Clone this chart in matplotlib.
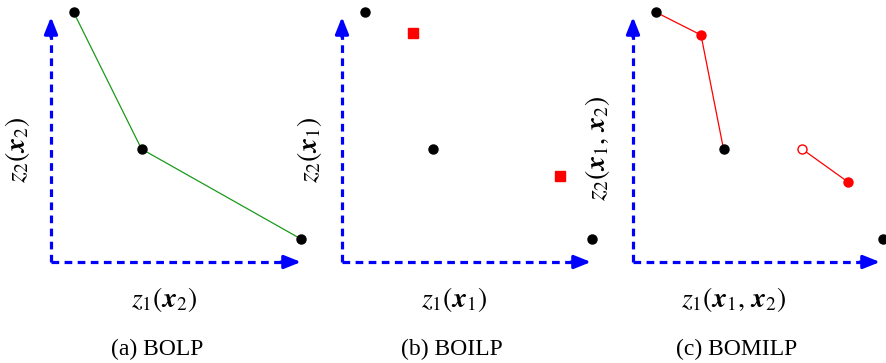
import matplotlib
matplotlib.use("Agg")
import matplotlib.pyplot as plt

plt.rcParams['font.family'] = ['Liberation Serif', 'DejaVu Serif']
plt.rcParams['mathtext.fontset'] = 'stix'

# Data (arbitrary units, origin at the axes corner)
black_x = [0.9, 3.62, 10.0]
black_y = [10.0, 4.52, 0.92]
boilp_sq_x = [2.84, 8.72]
boilp_sq_y = [9.16, 3.44]
bomilp_red_x = [2.72, 8.6]
bomilp_red_y = [9.08, 3.2]
bomilp_open_x = [6.76]
bomilp_open_y = [4.52]

xlabels = [r'$z_1(\mathbfit{x}_2)$', r'$z_1(\mathbfit{x}_1)$', r'$z_1(\mathbfit{x}_1,\,\mathbfit{x}_2)$']
ylabels = [r'$z_2(\mathbfit{x}_2)$', r'$z_2(\mathbfit{x}_1)$', r'$z_2(\mathbfit{x}_1,\,\mathbfit{x}_2)$']
captions = ['(a) BOLP', '(b) BOILP', '(c) BOMILP']

W, H = 886, 363
fig = plt.figure(figsize=(W / 100, H / 100), dpi=100)

origins = [(51, 262), (342, 262), (633, 262)]
arrow_x_end = [10.0, 9.96, 9.88]
xlabel_x = [4.52, 4.48, 4.04]
ylabel_x = [-1.32, -1.32, -1.4]
ylabel_y = [4.48, 4.48, 4.56]
caption_x = [4.24, 4.4, 4.16]
scale = 25.0
blue = '#0000ff'

axes = []
for i, (ox, oy) in enumerate(origins):
    x0, x1 = -1.8, 10.8
    y0, y1 = -4.0, 10.6
    left = ox + x0 * scale
    bottom = H - (oy - y0 * scale)
    ax = fig.add_axes([left / W, bottom / H, (x1 - x0) * scale / W, (y1 - y0) * scale / H])
    ax.set_xlim(x0, x1)
    ax.set_ylim(y0, y1)
    ax.axis('off')
    axes.append(ax)

    # dashed blue axes
    xe = arrow_x_end[i]
    ye = 9.8
    ax.plot([0, xe - 0.5], [0, 0], color=blue, lw=2.3, ls=(0, (2.4, 1.7)), dash_capstyle='butt')
    ax.plot([0, 0], [0, ye - 0.5], color=blue, lw=2.3, ls=(0, (2.4, 1.7)), dash_capstyle='butt')
    ax.annotate('', xy=(xe, 0), xytext=(xe - 0.8, 0),
                arrowprops=dict(arrowstyle='-|>,head_length=1.0,head_width=0.4', color=blue, lw=2.3,
                                shrinkA=0, shrinkB=0))
    ax.annotate('', xy=(0, ye), xytext=(0, ye - 0.8),
                arrowprops=dict(arrowstyle='-|>,head_length=1.0,head_width=0.4', color=blue, lw=2.3,
                                shrinkA=0, shrinkB=0))

    ax.text(xlabel_x[i], -1.48, xlabels[i], ha='center', va='center', fontsize=20)
    ax.text(ylabel_x[i], ylabel_y[i], ylabels[i], ha='center', va='center', fontsize=20, rotation=90)
    ax.text(caption_x[i], -3.48, captions[i], ha='center', va='center', fontsize=17)

# (a) BOLP
ax = axes[0]
ax.plot(black_x, black_y, color='#1a9a1a', lw=0.9, zorder=2)
ax.plot(black_x, black_y, 'o', color='black', ms=6.5, zorder=3)

# (b) BOILP
ax = axes[1]
ax.plot(black_x, black_y, 'o', color='black', ms=6.5, zorder=3)
ax.plot(boilp_sq_x, boilp_sq_y, 's', color='#ff0000', ms=7, zorder=3)

# (c) BOMILP
ax = axes[2]
ax.plot([black_x[0], bomilp_red_x[0], black_x[1]], [black_y[0], bomilp_red_y[0], black_y[1]],
        color='#ff0000', lw=0.9, zorder=2)
ax.plot([bomilp_open_x[0], bomilp_red_x[1]], [bomilp_open_y[0], bomilp_red_y[1]],
        color='#ff0000', lw=0.9, zorder=2)
ax.plot(black_x, black_y, 'o', color='black', ms=6.5, zorder=3)
ax.plot(bomilp_red_x, bomilp_red_y, 'o', color='#ff0000', ms=6.5, zorder=3)
ax.plot(bomilp_open_x, bomilp_open_y, 'o', mfc='white', mec='#ff0000', mew=1.0, ms=6.5, zorder=3)

fig.savefig('out.png', dpi=100)
